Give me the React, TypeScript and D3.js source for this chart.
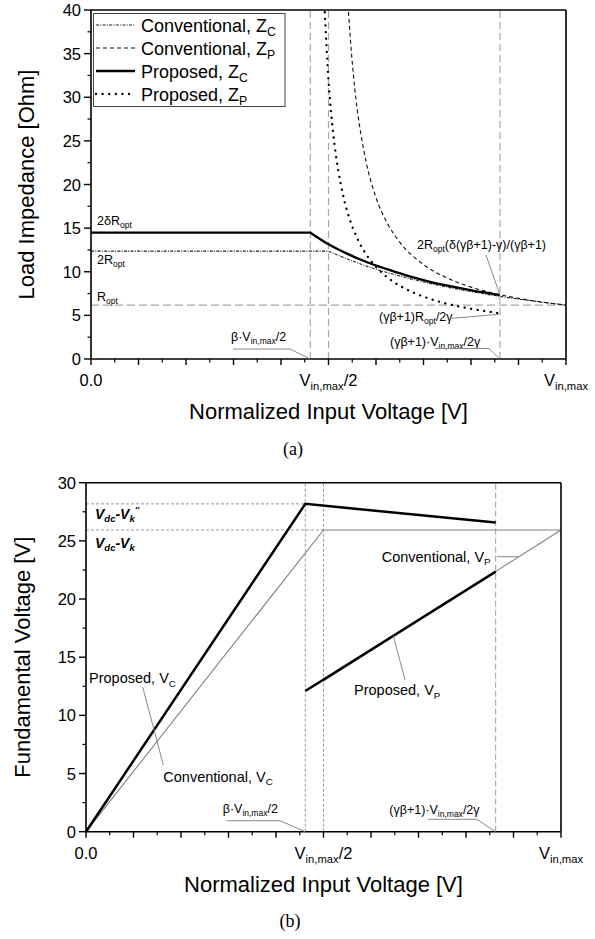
import React from "react";
import * as d3 from "d3";

const SANS = "'Liberation Sans', Arial, sans-serif";
const SERIF = "'Liberation Serif', 'Times New Roman', serif";

type Pt = [number, number];
type Part = [string, number]; // 0 normal, 1 subscript, 2 superscript

// ---------- Chart (a): load impedance ----------
const convZC: Pt[] = [
  [0, 12.36], [0.5, 12.36], [0.55, 11.24], [0.6, 10.3], [0.65, 9.51], [0.7, 8.83],
  [0.75, 8.24], [0.8, 7.73], [0.85, 7.27], [0.9, 6.87], [0.95, 6.51], [1.0, 6.18],
];
const convZP: Pt[] = [
  [0.541, 40.6], [0.55, 34.0], [0.56, 28.8], [0.57, 25.2], [0.58, 22.4], [0.6, 18.5],
  [0.625, 15.45], [0.65, 13.39], [0.7, 10.82], [0.75, 9.27], [0.8, 8.24], [0.85, 7.5],
  [0.9, 6.95], [0.95, 6.52], [1.0, 6.18],
];
const propZC: Pt[] = [
  [0, 14.48], [0.462, 14.48], [0.5, 13.15], [0.54, 12.05], [0.58, 11.12], [0.62, 10.35],
  [0.66, 9.65], [0.7, 9.05], [0.74, 8.52], [0.78, 8.1], [0.82, 7.68], [0.861, 7.33],
];
const propZP: Pt[] = [
  [0.4915, 40.5], [0.5, 31.97], [0.51, 25.8], [0.52, 21.8], [0.53, 18.94], [0.545, 15.96],
  [0.56, 13.89], [0.58, 11.94], [0.6, 10.57], [0.63, 9.11], [0.66, 8.1], [0.7, 7.15],
  [0.74, 6.47], [0.78, 5.96], [0.82, 5.57], [0.861, 5.24],
];
const impedanceTicks = [0, 5, 10, 15, 20, 25, 30, 35, 40];
const guideXA = [0.4617, 0.5, 0.861];
const rOptLevel = 6.18;
const legendRows: { parts: Part[]; style: string }[] = [
  { parts: [["Conventional, Z", 0], ["C", 1]], style: "convZC" },
  { parts: [["Conventional, Z", 0], ["P", 1]], style: "convZP" },
  { parts: [["Proposed, Z", 0], ["C", 1]], style: "propZC" },
  { parts: [["Proposed, Z", 0], ["P", 1]], style: "propZP" },
];

// ---------- Chart (b): fundamental voltage ----------
const propVC: Pt[] = [[0, 0], [0.4617, 28.18], [0.8625, 26.57]];
const convVC: Pt[] = [[0, 0], [0.5, 25.94], [1, 25.94]];
const propVP: Pt[] = [[0.4617, 12.1], [0.8625, 22.36]];
const convVP: Pt[] = [[0.5, 12.95], [1, 25.94]];
const voltageTicks = [0, 5, 10, 15, 20, 25, 30];
const guideXB = [0.4617, 0.5, 0.8625];
const vLevels = [28.18, 25.94];

const xTickLabels: { v: number; parts: Part[] }[] = [
  { v: 0, parts: [["0.0", 0]] },
  { v: 0.5, parts: [["V", 0], ["in,max", 1], ["/2", 0]] },
  { v: 1, parts: [["V", 0], ["in,max", 1]] },
];

const betaLabel: Part[] = [["β·V", 0], ["in,max", 1], ["/2", 0]];
const gbLabel: Part[] = [["(γβ+1)·V", 0], ["in,max", 1], ["/2γ", 0]];

function RichText(props: {
  x: number; y: number; parts: Part[]; size: number; anchor?: string;
  weight?: string; italic?: boolean; fill?: string; transform?: string;
}) {
  const { x, y, parts, size, anchor = "start", weight = "normal", italic = false, fill = "#000", transform } = props;
  let cur = 0;
  const spans = parts.map(([t, k], i) => {
    const target = k === 1 ? size * 0.25 : k === 2 ? -size * 0.45 : 0;
    const dy = target - cur;
    cur = target;
    return (
      <tspan key={i} dy={dy} fontSize={k ? size * 0.68 : size}>
        {t}
      </tspan>
    );
  });
  return (
    <text
      x={x} y={y} fontSize={size} textAnchor={anchor} fontFamily={SANS}
      fontWeight={weight} fontStyle={italic ? "italic" : "normal"} fill={fill} transform={transform}
    >
      {spans}
    </text>
  );
}

function Axes(props: {
  x: d3.ScaleLinear<number, number>; y: d3.ScaleLinear<number, number>;
  yTicks: number[]; yTitle: string; yTitleX: number; id: string;
}) {
  const { x, y, yTicks, yTitle, yTitleX } = props;
  const [x0, x1] = x.range();
  const [y0, y1] = y.range();
  const xMajor = d3.range(0, 1.0001, 0.1);
  const xMinor = d3.range(0.05, 1, 0.1);
  const yStep = yTicks[1] - yTicks[0];
  const yMinor = yTicks.slice(0, -1).map((t) => t + yStep / 2);
  return (
    <g>
      <line x1={x0} x2={x1} y1={y1} y2={y1} stroke="#000" strokeWidth={1.6} />
      <line x1={x1} x2={x1} y1={y1} y2={y0} stroke="#000" strokeWidth={1.6} />
      <line x1={x0} x2={x1} y1={y0} y2={y0} stroke="#000" strokeWidth={1.6} />
      <line x1={x0} x2={x0} y1={y1} y2={y0} stroke="#000" strokeWidth={1.6} />
      {xMajor.map((t, i) => (
        <line key={"xM" + i} x1={x(t)} x2={x(t)} y1={y0} y2={y0 + 6} stroke="#000" strokeWidth={1.4} />
      ))}
      {xMinor.map((t, i) => (
        <line key={"xm" + i} x1={x(t)} x2={x(t)} y1={y0} y2={y0 + 3.5} stroke="#000" strokeWidth={1.2} />
      ))}
      {yTicks.map((t, i) => (
        <g key={"yM" + i}>
          <line x1={x0 - 7} x2={x0} y1={y(t)} y2={y(t)} stroke="#000" strokeWidth={1.4} />
          <text x={x0 - 10} y={y(t) + 6} fontSize={16.5} textAnchor="end" fontFamily={SANS}>
            {t}
          </text>
        </g>
      ))}
      {yMinor.map((t, i) => (
        <line key={"ym" + i} x1={x0 - 3.5} x2={x0} y1={y(t)} y2={y(t)} stroke="#000" strokeWidth={1.2} />
      ))}
      {xTickLabels.map((d, i) => (
        <RichText key={"xl" + i} x={x(d.v)} y={y0 + 27} parts={d.parts} size={16.5} anchor="middle" />
      ))}
      <text x={(x0 + x1) / 2} y={y0 + 60} fontSize={22} textAnchor="middle" fontFamily={SANS}>
        Normalized Input Voltage [V]
      </text>
      <text
        transform={`translate(${yTitleX},${(y0 + y1) / 2}) rotate(-90)`}
        fontSize={22} textAnchor="middle" fontFamily={SANS}
      >
        {yTitle}
      </text>
    </g>
  );
}

function Leader({ pts }: { pts: Pt[] }) {
  return <polyline points={pts.map((p) => p.join(",")).join(" ")} fill="none" stroke="#8a8a8a" strokeWidth={1} />;
}

const lineStyles: Record<string, { w: number; dash?: string; cap?: string; color: string }> = {
  convZC: { w: 1.1, dash: "3,1.3,1,1.3", color: "#222" },
  convZP: { w: 1.1, dash: "4,3", color: "#111" },
  propZC: { w: 2.3, color: "#000" },
  propZP: { w: 2.3, dash: "0.1,6.5", cap: "round", color: "#000" },
};

function ChartA() {
  const x = d3.scaleLinear().domain([0, 1]).range([91, 566]);
  const y = d3.scaleLinear().domain([0, 40]).range([359, 10]);
  // flat part drawn straight, falling part smooth, joined with a sharp knee
  const curve = d3.line<Pt>().x((d) => x(d[0])).y((d) => y(d[1])).curve(d3.curveMonotoneX);
  const pathWithKnee = (data: Pt[], knee: number) => {
    const flat = `M${x(data[0][0])},${y(data[0][1])}L${x(data[knee][0])},${y(data[knee][1])}`;
    const rest = curve(data.slice(knee)) || "";
    return knee > 0 ? flat + rest.replace(/^M/, "L") : rest;
  };
  const series: { data: Pt[]; style: string; knee: number }[] = [
    { data: convZP, style: "convZP", knee: 0 },
    { data: convZC, style: "convZC", knee: 1 },
    { data: propZP, style: "propZP", knee: 0 },
    { data: propZC, style: "propZC", knee: 1 },
  ];
  const y0 = y(0);
  return (
    <g>
      <defs>
        <clipPath id="clipA">
          <rect x={91} y={10} width={475} height={349} />
        </clipPath>
      </defs>
      {guideXA.map((g, i) => (
        <line key={i} x1={x(g)} x2={x(g)} y1={y(0)} y2={y(40)} stroke="#a8a8a8" strokeWidth={1.2} strokeDasharray="7,4" />
      ))}
      <line x1={x(0)} x2={x(1)} y1={y(rOptLevel)} y2={y(rOptLevel)} stroke="#a8a8a8" strokeWidth={1.4} strokeDasharray="8,4" />
      <g clipPath="url(#clipA)">
        {series.map((s, i) => {
          const st = lineStyles[s.style];
          return (
            <path
              key={i} d={pathWithKnee(s.data, s.knee)} fill="none" stroke={st.color}
              strokeWidth={st.w} strokeDasharray={st.dash} strokeLinecap={(st.cap as any) || "butt"}
              strokeLinejoin="miter"
            />
          );
        })}
      </g>
      <Axes x={x} y={y} yTicks={impedanceTicks} yTitle="Load Impedance [Ohm]" yTitleX={34} id="a" />
      <rect x={93.5} y={13.5} width={191.5} height={93} fill="#fff" stroke="#444" strokeWidth={1} />
      {legendRows.map((r, i) => {
        const cy = 25 + i * 23;
        const st = lineStyles[r.style];
        return (
          <g key={i}>
            <line x1={96} x2={135} y1={cy} y2={cy} stroke={st.color} strokeWidth={st.w}
              strokeDasharray={st.dash} strokeLinecap={(st.cap as any) || "butt"} />
            <RichText x={141} y={cy + 6.5} parts={r.parts} size={18} />
          </g>
        );
      })}
      <RichText x={x(0) + 6} y={y(14.48) - 8} parts={[["2δR", 0], ["opt", 1]]} size={12.5} />
      <RichText x={x(0) + 6} y={y(12.36) + 13} parts={[["2R", 0], ["opt", 1]]} size={12.5} />
      <RichText x={x(0) + 6} y={y(rOptLevel) - 4} parts={[["R", 0], ["opt", 1]]} size={12.5} />
      <RichText x={417} y={249} parts={[["2R", 0], ["opt", 1], ["(δ(γβ+1)-γ)/(γβ+1)", 0]]} size={12.5} />
      <Leader pts={[[486, 255], [x(0.861), y(7.33)]]} />
      <RichText x={379} y={321} parts={[["(γβ+1)R", 0], ["opt", 1], ["/2γ", 0]]} size={12.5} />
      <Leader pts={[[450, 318.5], [x(0.861) - 1, y(5.24) + 1]]} />
      <RichText x={231} y={y0 - 18} parts={betaLabel} size={12.5} />
      <Leader pts={[[233, y0 - 10], [290, y0 - 10], [x(0.4617), y0]]} />
      <RichText x={390} y={y0 - 13} parts={gbLabel} size={12.5} />
      <Leader pts={[[435, y0 - 10.5], [489, y0 - 10.5], [x(0.861), y0]]} />
    </g>
  );
}

function ChartB() {
  const x = d3.scaleLinear().domain([0, 1]).range([86, 561]);
  const y = d3.scaleLinear().domain([0, 30]).range([831.7, 482.7]);
  const line = d3.line<Pt>().x((d) => x(d[0])).y((d) => y(d[1]));
  const y0 = y(0);
  return (
    <g>
      {vLevels.map((v, i) => (
        <line key={"h" + i} x1={x(0)} x2={x(guideXB[i])} y1={y(v)} y2={y(v)} stroke="#9a9a9a" strokeWidth={1} strokeDasharray="3,2" />
      ))}
      {guideXB.map((g, i) => (
        <line key={"v" + i} x1={x(g)} x2={x(g)} y1={y(0)} y2={y(30)} stroke="#9a9a9a" strokeWidth={1}
          strokeDasharray={i < 2 ? "3,2" : "6,3"} />
      ))}
      <path d={line(convVC) || ""} fill="none" stroke="#808080" strokeWidth={1.1} />
      <path d={line(convVP) || ""} fill="none" stroke="#808080" strokeWidth={1.1} />
      <path d={line(propVC) || ""} fill="none" stroke="#000" strokeWidth={2.5} />
      <path d={line(propVP) || ""} fill="none" stroke="#000" strokeWidth={2.5} />
      <Axes x={x} y={y} yTicks={voltageTicks} yTitle="Fundamental Voltage [V]" yTitleX={30} id="b" />
      <RichText x={95} y={y(28.18) + 15} parts={[["V", 0], ["dc", 1], ["-V", 0], ["k", 1], ["''", 2]]} size={14} weight="bold" italic />
      <RichText x={95} y={y(25.94) + 18} parts={[["V", 0], ["dc", 1], ["-V", 0], ["k", 1]]} size={14} weight="bold" italic />
      <RichText x={89} y={683} parts={[["Proposed, V", 0], ["C", 1]]} size={14.5} />
      <Leader pts={[[142.7, 687], [163.3, 765]]} />
      <RichText x={163.3} y={781.7} parts={[["Conventional, V", 0], ["C", 1]]} size={14.5} />
      <RichText x={381.7} y={561.7} parts={[["Conventional, V", 0], ["P", 1]]} size={14.5} />
      <Leader pts={[[497, 556.7], [518, 556.7]]} />
      <RichText x={354} y={695} parts={[["Proposed, V", 0], ["P", 1]]} size={14.5} />
      <Leader pts={[[405, 680], [x(0.647), y(16.84)]]} />
      <RichText x={222.7} y={y0 - 18.4} parts={betaLabel} size={12.5} />
      <Leader pts={[[226.7, y0 - 11], [280, y0 - 11], [x(0.4617), y0]]} />
      <RichText x={389.3} y={y0 - 17.7} parts={gbLabel} size={12.5} />
      <Leader pts={[[428.3, y0 - 12.4], [476.7, y0 - 12.4], [x(0.8625), y0]]} />
    </g>
  );
}

export default function App() {
  return (
    <svg width={595} height={939} style={{ position: "absolute", left: 0, top: 0, background: "#fff" }}>
      <rect x={0} y={0} width={595} height={939} fill="#fff" />
      <ChartA />
      <text x={293} y={455} fontSize={18} textAnchor="middle" fontFamily={SERIF}>(a)</text>
      <ChartB />
      <text x={290} y={927} fontSize={18} textAnchor="middle" fontFamily={SERIF}>(b)</text>
    </svg>
  );
}
